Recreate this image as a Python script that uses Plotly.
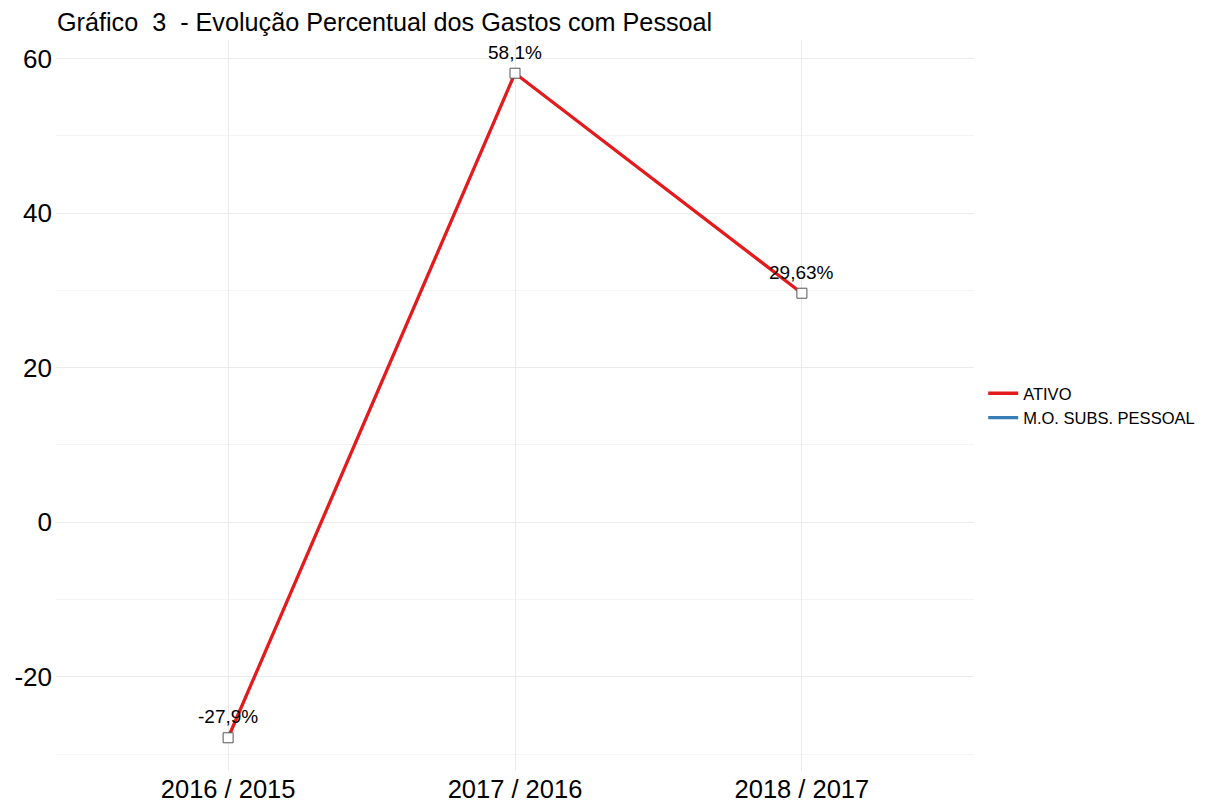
import plotly.graph_objects as go

categories = ["2016 / 2015", "2017 / 2016", "2018 / 2017"]
ativo = [-27.9, 58.1, 29.63]
ativo_labels = ["-27,9%", "58,1%", "29,63%"]
series_names = ["ATIVO", "M.O. SUBS. PESSOAL"]
y_ticks = [-20, 0, 20, 40, 60]
y_tick_labels = ["-20", "0", "20", "40", "60"]
y_minor = [-30, -10, 10, 30, 50]
title_text = "Gráfico\u00a0\u00a03\u00a0\u00a0- Evolução Percentual dos Gastos com Pessoal"

RED = "#E41A1C"
BLUE = "#377EB8"
FONT = "Liberation Sans, Arial, sans-serif"

# page body has an 8px default margin; the figure is sized to fit the window
OFF = 8
W, H = 1205 - OFF, 801 - OFF

fig = go.Figure()
fig.add_trace(go.Scatter(x=categories, y=ativo, mode="lines", name=series_names[0],
                         line=dict(color=RED, width=3.3), showlegend=True))
fig.add_trace(go.Scatter(x=[None], y=[None], mode="lines", name=series_names[1],
                         line=dict(color=BLUE, width=3.3), showlegend=True))
fig.add_trace(go.Scatter(x=categories, y=ativo, mode="markers", showlegend=False,
                         marker=dict(symbol="square", size=10, color="white",
                                     line=dict(color="#555555", width=1))))

for c, v, t in zip(categories, ativo, ativo_labels):
    fig.add_annotation(x=c, y=v, text=t, showarrow=False, yshift=21,
                       xanchor="center", yanchor="middle",
                       font=dict(family=FONT, size=19, color="black"))

fig.update_layout(
    width=W, height=H,
    margin=dict(l=56 - OFF, r=231, t=40 - OFF, b=30, autoexpand=False),
    plot_bgcolor="white", paper_bgcolor="white",
    font=dict(family=FONT, color="black"),
    title=dict(text=title_text, x=(57 - OFF) / W, xanchor="left", xref="container",
               y=1 - (22 - OFF) / H, yanchor="middle", yref="container", automargin=False,
               font=dict(size=25.2, family=FONT, color="black")),
    legend=dict(x=1.01, xanchor="left", y=0.5, yanchor="middle",
                font=dict(size=16.5, family=FONT, color="black"),
                itemwidth=30, tracegroupgap=0, bgcolor="rgba(0,0,0,0)"),
    showlegend=True,
)
fig.update_xaxes(range=[-0.6, 2.6], showgrid=True, gridcolor="#ebebeb", gridwidth=1,
                 zeroline=False, showline=False, ticks="", automargin=False,
                 ticklabelstandoff=0,
                 tickfont=dict(size=25.5, family=FONT, color="black"))
fig.update_yaxes(range=[-32.2, 62.4], tickvals=y_ticks, ticktext=y_tick_labels,
                 showgrid=True, gridcolor="#ebebeb", gridwidth=1,
                 zeroline=False, showline=False, ticks="", automargin=False,
                 ticklabelstandoff=3,
                 minor=dict(tickvals=y_minor, showgrid=True,
                            gridcolor="#f4f4f4", gridwidth=1),
                 tickfont=dict(size=26, family=FONT, color="black"))

fig.write_html("out.html")
